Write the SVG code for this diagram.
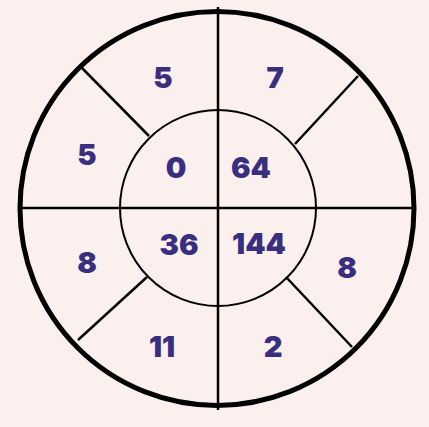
<svg xmlns="http://www.w3.org/2000/svg" width="429" height="427" viewBox="0 0 429 427">
<style>
.t{font-family:"Inter","Noto Sans",sans-serif;font-weight:900;font-size:29px;fill:#3a2e7e;text-anchor:middle}
.l{stroke:#000;stroke-width:2.5;fill:none}
</style>
<rect width="429" height="427" fill="#fbf0ee"/>
<g id="outer"><circle cx="217" cy="208.5" r="197" fill="none" stroke="#000" stroke-width="5"/></g>
<g id="inner"><circle cx="218" cy="208" r="98" fill="none" stroke="#000" stroke-width="2"/></g>
<g id="connectors">
<line class="l" x1="218" y1="7" x2="218" y2="410" stroke-width="3"/>
<line class="l" x1="18" y1="208" x2="414" y2="208"/>
<line class="l" x1="82" y1="68" x2="149" y2="136"/>
<line class="l" x1="358" y1="76" x2="295" y2="144"/>
<line class="l" x1="78" y1="340" x2="147" y2="277"/>
<line class="l" x1="286" y1="277" x2="352" y2="347"/>
</g>
<g id="labels">
<text class="t" x="163" y="88">5</text>
<text class="t" x="275" y="88">7</text>
<text class="t" x="87" y="165">5</text>
<text class="t" x="176" y="178">0</text>
<text class="t" x="251" y="178">64</text>
<text class="t" x="179" y="255">36</text>
<text class="t" x="259" y="254">144</text>
<text class="t" x="87" y="273">8</text>
<text class="t" x="347" y="278">8</text>
<text class="t" x="162" y="357">11</text>
<text class="t" x="273" y="357">2</text>
</g>
</svg>
